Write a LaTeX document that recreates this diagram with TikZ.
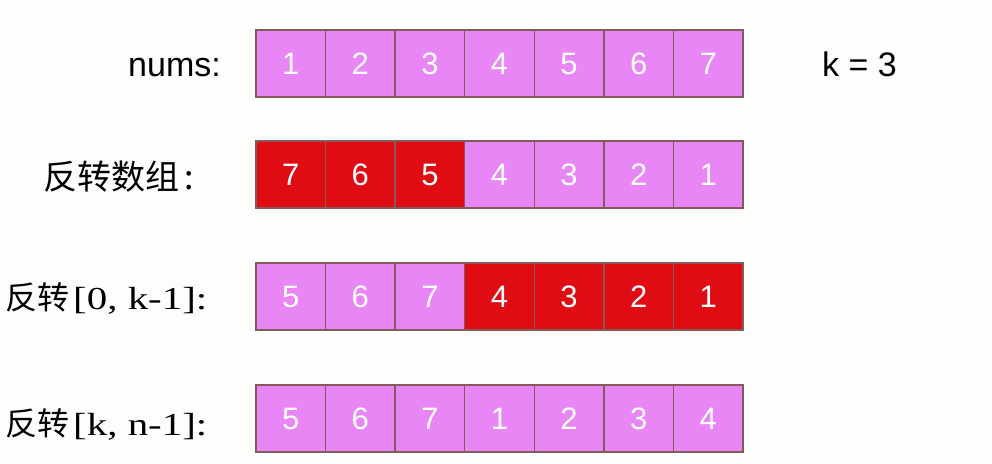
\documentclass[tikz,border=0pt]{standalone}
\usepackage{fontspec}
\setmainfont{Liberation Sans}
\newfontfamily\cjkfont{Noto Sans CJK SC}
\newfontfamily\latinserif{Liberation Serif}
\definecolor{cellpink}{RGB}{233,134,245}
\definecolor{cellred}{RGB}{224,12,20}
\definecolor{cellborder}{RGB}{135,90,90}
\definecolor{bg}{RGB}{253,253,251}
\tikzset{
  cell/.style={draw=cellborder, line width=1.3pt, minimum width=69.57pt, minimum height=67pt,
    inner sep=0pt, text=white, font=\fontsize{31}{31}\selectfont},
  pinkcell/.style={cell, fill=cellpink},
  redcell/.style={cell, fill=cellred},
  rowlabel/.style={inner sep=0pt, text=black}
}
\begin{document}
\begin{tikzpicture}[x=1pt, y=-1pt]
\fill[bg] (0,0) rectangle (992,463);
\useasboundingbox (0,0) rectangle (992,463);
% row 1
\foreach \v [count=\i] in {1,2,3,4,5,6,7}
  \node[pinkcell] (ra\i) at ({256+69.57*(\i-0.5)},63.5) {\v};
% row 2
\foreach \v/\s [count=\i] in {7/redcell,6/redcell,5/redcell,4/pinkcell,3/pinkcell,2/pinkcell,1/pinkcell}
  \node[\s] (rb\i) at ({256+69.57*(\i-0.5)},174.5) {\v};
% row 3
\foreach \v/\s [count=\i] in {5/pinkcell,6/pinkcell,7/pinkcell,4/redcell,3/redcell,2/redcell,1/redcell}
  \node[\s] (rc\i) at ({256+69.57*(\i-0.5)},296.5) {\v};
% row 4
\foreach \v [count=\i] in {5,6,7,1,2,3,4}
  \node[pinkcell] (rd\i) at ({256+69.57*(\i-0.5)},418.5) {\v};
% labels
\node[rowlabel, anchor=base east, font=\fontsize{34}{34}\selectfont] (la) at (221,76) {nums:};
\node[rowlabel, anchor=base west, font=\fontsize{34}{34}\selectfont] (kk) at (822,76) {k = 3};
\node[rowlabel, anchor=base west] (lb) at (43,189) {\cjkfont\fontsize{34}{34}\selectfont 反转数组\,:};
\node[rowlabel, anchor=base west] (lc) at (5,309) {\cjkfont\fontsize{32}{32}\selectfont 反转\hspace{4pt}\scalebox{1.28}[1]{\latinserif\fontsize{32}{32}\selectfont [0, k-1]:}};
\node[rowlabel, anchor=base west] (ld) at (5,435) {\cjkfont\fontsize{32}{32}\selectfont 反转\hspace{4pt}\scalebox{1.28}[1]{\latinserif\fontsize{32}{32}\selectfont [k, n-1]:}};
\end{tikzpicture}
\end{document}
